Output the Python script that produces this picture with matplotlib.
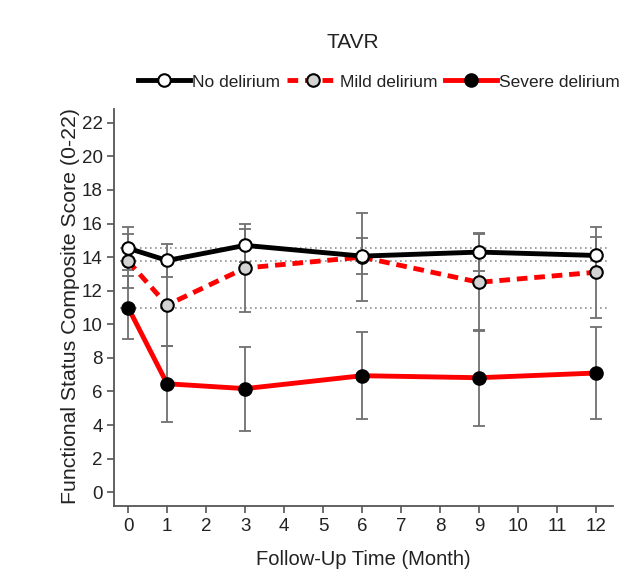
import matplotlib
matplotlib.use('Agg')
import matplotlib.pyplot as plt
import numpy as np

plt.rcParams['font.family'] = ['Liberation Sans', 'DejaVu Sans']

# Дані
months = [0, 1, 3, 6, 9, 12]
no_del = [14.53, 13.8, 14.7, 14.06, 14.3, 14.1]
no_del_err = [1.27, 1.0, 1.0, 1.05, 1.12, 1.07]
mild_del = [13.76, 11.15, 13.35, 14.0, 12.5, 13.1]
mild_del_err = [1.6, 2.45, 2.6, 2.6, 2.9, 2.7]
severe_del = [11.0, 6.46, 6.17, 6.94, 6.82, 7.1]
severe_del_err = [1.9, 2.25, 2.5, 2.6, 2.85, 2.75]
labels = ['No delirium', 'Mild delirium', 'Severe delirium']

fig = plt.figure(figsize=(6.28, 5.77), dpi=100)
ax = fig.add_axes([0.1823, 0.1230, 0.7933, 0.6881])

err_kw = dict(fmt='none', ecolor='#707070', elinewidth=1.3, capsize=4, capthick=1.3, zorder=2)
ax.errorbar(months, no_del, yerr=no_del_err, **err_kw)
ax.errorbar(months, mild_del, yerr=mild_del_err, **err_kw)
ax.errorbar(months, severe_del, yerr=severe_del_err, **err_kw)

# Базові лінії (значення на 0 місяці)
for base in [no_del[0], mild_del[0], severe_del[0]]:
    ax.hlines(base, -0.2, 12.35, colors='#909090', linestyles=(0, (1, 2)), linewidth=1.2, zorder=1)

ax.plot(months, no_del, color='black', linewidth=3.5, marker='o', markersize=9,
        markerfacecolor='white', markeredgecolor='black', markeredgewidth=1.5, label=labels[0], zorder=4)
ax.plot(months, mild_del, color='#ff0000', linewidth=3.5, linestyle=(0, (2.2, 1.4)), marker='o', markersize=9,
        markerfacecolor='#d3d3d3', markeredgecolor='black', markeredgewidth=1.5, label=labels[1], zorder=3)
ax.plot(months, severe_del, color='#ff0000', linewidth=3.5, marker='o', markersize=9,
        markerfacecolor='black', markeredgecolor='black', markeredgewidth=1.5, label=labels[2], zorder=3)

ax.set_xlim(-0.35, 12.43)
ax.set_ylim(-0.82, 22.82)
ax.set_xticks(range(0, 13))
ax.set_yticks(range(0, 23, 2))
ax.spines['top'].set_visible(False)
ax.spines['right'].set_visible(False)
for s in ['left', 'bottom']:
    ax.spines[s].set_color('#555555')
    ax.spines[s].set_linewidth(1.3)
ax.tick_params(axis='both', labelsize=13.5, colors='#555555', labelcolor='#222222', length=5, width=1.2)

fig.text(0.113, 0.47, 'Functional Status Composite Score (0-22)', rotation=90,
         ha='center', va='center', fontsize=15.3, color='#222222')
fig.text(0.578, 0.030, 'Follow-Up Time (Month)', ha='center', va='center', fontsize=14.5, color='#222222')
fig.text(0.562, 0.927, 'TAVR', ha='center', va='center', fontsize=15, color='#222222')

fig.legend(loc='center', bbox_to_anchor=(0.603, 0.858), ncol=3, frameon=False, fontsize=12.5,
           handlelength=3.0, handletextpad=0.1, columnspacing=0.4, labelcolor='#222222')

plt.savefig('out.png', dpi=100)
